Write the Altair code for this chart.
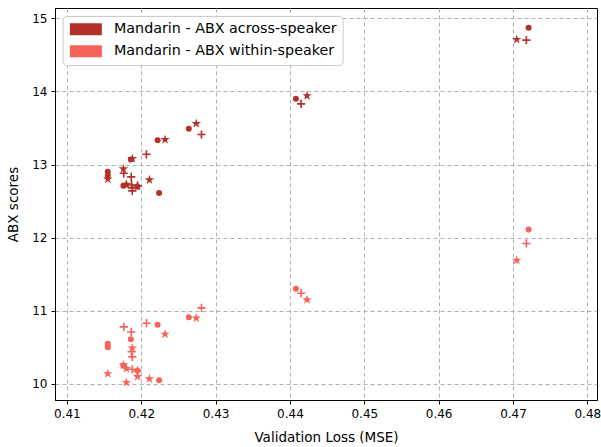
import altair as alt
import pandas as pd

# ---- data ----
series_names = ["Mandarin - ABX across-speaker", "Mandarin - ABX within-speaker"]

circle_loss = [0.4155, 0.4155, 0.4176, 0.4186, 0.4195, 0.4222, 0.4224, 0.4264, 0.4408, 0.4721]
circle_across = [12.90, 12.85, 12.71, 13.07, 12.70, 13.33, 12.61, 13.49, 13.90, 14.87]
circle_within = [10.55, 10.50, 10.25, 10.61, 10.18, 10.81, 10.05, 10.91, 11.30, 12.11]

star_loss = [0.4155, 0.4176, 0.4180, 0.4180, 0.4188, 0.4195, 0.4211, 0.4232, 0.4274, 0.4423, 0.4705]
star_across = [12.80, 12.94, 12.72, 12.73, 13.08, 12.70, 12.79, 13.34, 13.56, 13.94, 14.71]
star_within = [10.14, 10.26, 10.02, 10.21, 10.49, 10.10, 10.07, 10.68, 10.90, 11.15, 11.69]

plus_loss = [0.41765, 0.41865, 0.4187, 0.4188, 0.4188, 0.4195, 0.4207, 0.4281, 0.4415, 0.4718]
plus_across = [12.88, 12.83, 12.72, 12.64, 12.68, 12.71, 13.14, 13.41, 13.83, 14.70]
plus_within = [10.78, 10.71, 10.44, 10.37, 10.20, 10.18, 10.83, 11.04, 11.24, 11.92]

x_ticks = [0.41, 0.42, 0.43, 0.44, 0.45, 0.46, 0.47, 0.48]
y_ticks = [10, 11, 12, 13, 14, 15]

colors = ["#b3312b", "#f7625b"]

rows = []
for marker, loss, acr, wit in [
    ("circle", circle_loss, circle_across, circle_within),
    ("star", star_loss, star_across, star_within),
    ("plus", plus_loss, plus_across, plus_within),
]:
    for l, a in zip(loss, acr):
        rows.append({"loss": l, "score": a, "series": series_names[0], "marker": marker})
    for l, w in zip(loss, wit):
        rows.append({"loss": l, "score": w, "series": series_names[1], "marker": marker})
df = pd.DataFrame(rows)

PLUS_PATH = "M-1,-0.2H1V0.2H-1Z M-0.2,-1H0.2V1H-0.2Z"
STAR_PATH = ("M0,-1L0.2245,-0.309L0.9511,-0.309L0.3633,0.118L0.5878,0.809L0,0.382"
             "L-0.5878,0.809L-0.3633,0.118L-0.9511,-0.309L-0.2245,-0.309Z")
LEGEND_RECT = "M-1,-1H4.33V1H-1Z"

FONT = "DejaVu Sans"

chart = (
    alt.Chart(df)
    .mark_point(filled=True, opacity=1, strokeWidth=0)
    .encode(
        x=alt.X(
            "loss:Q",
            scale=alt.Scale(domain=[0.4084, 0.4813], nice=False, zero=False),
            axis=alt.Axis(values=x_ticks, format=".2f", title="Validation Loss (MSE)"),
        ),
        y=alt.Y(
            "score:Q",
            scale=alt.Scale(domain=[9.78, 15.14], nice=False, zero=False),
            axis=alt.Axis(values=y_ticks, format="d", title="ABX scores"),
        ),
        color=alt.Color(
            "series:N",
            scale=alt.Scale(domain=series_names, range=colors),
            legend=alt.Legend(
                title=None,
                orient="none",
                legendX=7.7,
                legendY=8,
                symbolType=LEGEND_RECT,
                symbolSize=144,
                symbolStrokeWidth=0,
                symbolOpacity=1,
                labelFontSize=14.3,
                labelFont=FONT,
                labelColor="black",
                labelOffset=31,
                labelLimit=400,
                fillColor="white",
                strokeColor="#cccccc",
                cornerRadius=4,
                padding=6,
                rowPadding=7,
            ),
        ),
        shape=alt.Shape(
            "marker:N",
            scale=alt.Scale(domain=["circle", "plus", "star"], range=["circle", PLUS_PATH, STAR_PATH]),
            legend=None,
        ),
        size=alt.Size(
            "marker:N",
            scale=alt.Scale(domain=["circle", "plus", "star"], range=[36, 100, 130]),
            legend=None,
        ),
    )
    .properties(
        width=542,
        height=392,
        padding={"left": 55, "top": 8, "right": 4, "bottom": 47},
        autosize=alt.AutoSizeParams(type="none"),
    )
    .configure_view(stroke="black", strokeWidth=1)
    .configure_axis(
        labelFont=FONT,
        titleFont=FONT,
        labelFontSize=12,
        titleFontSize=13.5,
        titleFontWeight="normal",
        labelColor="black",
        titleColor="black",
        domainColor="black",
        tickColor="black",
        tickSize=4,
        grid=True,
        gridColor="#b0b0b0",
        gridDash=[4, 3],
        gridWidth=1,
    )
    .configure_axisX(labelPadding=4, titlePadding=11)
    .configure_axisY(labelPadding=4, titlePadding=11)
)

chart.save("out.html", embed_options={"renderer": "svg", "actions": False})
